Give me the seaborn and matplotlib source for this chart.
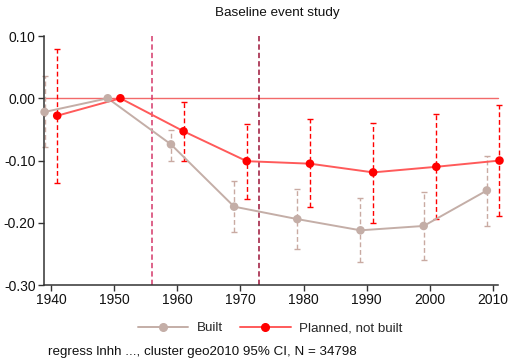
import numpy as np
import pandas as pd
import matplotlib
matplotlib.use("Agg")
import matplotlib.pyplot as plt
from matplotlib.lines import Line2D
import seaborn as sns

# Event-study coefficients (log households) with 95% confidence bounds
built_years = [1939, 1949, 1959, 1969, 1979, 1989, 1999, 2009]
built_coef = [-0.022, 0.000, -0.074, -0.174, -0.194, -0.212, -0.205, -0.148]
built_lo = [-0.078, 0.000, -0.100, -0.214, -0.242, -0.263, -0.259, -0.205]
built_hi = [0.036, 0.000, -0.051, -0.133, -0.146, -0.160, -0.150, -0.092]

planned_years = [1941, 1951, 1961, 1971, 1981, 1991, 2001, 2011]
planned_coef = [-0.028, 0.000, -0.053, -0.101, -0.105, -0.119, -0.110, -0.100]
planned_lo = [-0.136, 0.000, -0.101, -0.161, -0.174, -0.200, -0.194, -0.189]
planned_hi = [0.079, 0.000, -0.006, -0.042, -0.033, -0.039, -0.026, -0.011]

event_years = [1956, 1973]
x_ticks = [1940, 1950, 1960, 1970, 1980, 1990, 2000, 2010]
y_ticks = [-0.30, -0.20, -0.10, 0.00, 0.10]

sns.set_theme(style="ticks")
plt.rcParams["font.family"] = ["Liberation Sans", "DejaVu Sans"]

BUILT_LINE = "#c4aea7"
BUILT_BAR = "#c9aaa2"
PLAN_LINE = "#ff5a5a"
PLAN_DOT = "#ff0000"
DASH = (0, (3.5, 2))

df = pd.concat([
    pd.DataFrame({"year": built_years, "coef": built_coef, "group": "Built"}),
    pd.DataFrame({"year": planned_years, "coef": planned_coef, "group": "Planned, not built"}),
], ignore_index=True)

fig = plt.figure(figsize=(5.11, 3.60), dpi=100)
ax = fig.add_axes([0.086, 0.208, 0.889, 0.692])

# reference lines
ax.axhline(0, color="#f26a6a", lw=1.0, zorder=1)
ax.axvline(event_years[0], color="#d4386a", lw=1.1, ls=DASH, zorder=1)
ax.axvline(event_years[1], color="#9c1438", lw=1.1, ls=DASH, zorder=1)

# confidence intervals
for yrs, c, lo, hi, col in [
    (built_years, built_coef, built_lo, built_hi, BUILT_BAR),
    (planned_years, planned_coef, planned_lo, planned_hi, PLAN_DOT),
]:
    c = np.array(c)
    err = np.vstack([c - np.array(lo), np.array(hi) - c])
    eb = ax.errorbar(yrs, c, yerr=err, fmt="none", ecolor=col, elinewidth=1.0,
                     capsize=2.2, capthick=1.0, zorder=2)
    eb[2][0].set_linestyle(DASH)

sns.lineplot(data=df, x="year", y="coef", hue="group",
             palette={"Built": BUILT_LINE, "Planned, not built": PLAN_LINE},
             lw=1.4, legend=False, ax=ax, zorder=3)
sns.scatterplot(data=df, x="year", y="coef", hue="group",
                palette={"Built": BUILT_LINE, "Planned, not built": PLAN_DOT},
                s=38, edgecolor="none", legend=False, ax=ax, zorder=4)

# let points and intervals at the edges spill past the axes
for art in ax.get_children():
    if art is not ax.patch and hasattr(art, "set_clip_on"):
        art.set_clip_on(False)

ax.set_xlim(1938.9, 2010.8)
ax.set_ylim(-0.30, 0.10)
ax.set_xticks(x_ticks)
ax.set_yticks(y_ticks)
ax.set_yticklabels([f"{v:.2f}" for v in y_ticks])
ax.set_xlabel("")
ax.set_ylabel("")
ax.tick_params(axis="both", labelsize=10, length=4, width=1.0, color="#333333",
               labelcolor="#111111", pad=2)
for side in ("top", "right"):
    ax.spines[side].set_visible(False)
for side in ("left", "bottom"):
    ax.spines[side].set_color("#333333")
    ax.spines[side].set_linewidth(1.1)

fig.text(0.542, 0.965, "Baseline event study", ha="center", va="center",
         fontsize=9.7, color="#111111")

handles = [
    Line2D([], [], color=BUILT_LINE, lw=1.4, marker="o", markersize=5.5,
           markerfacecolor=BUILT_LINE, markeredgecolor=BUILT_LINE),
    Line2D([], [], color=PLAN_LINE, lw=1.4, marker="o", markersize=5.5,
           markerfacecolor=PLAN_DOT, markeredgecolor=PLAN_DOT),
]
fig.legend(handles, ["Built", "Planned, not built"], loc="center",
           bbox_to_anchor=(0.528, 0.088), ncol=2, frameon=False, fontsize=9.6,
           handlelength=3.8, columnspacing=1.3, handletextpad=0.6)

fig.text(0.094, 0.022, "regress lnhh ..., cluster geo2010 95% CI, N = 34798",
         ha="left", va="center", fontsize=9.6, color="#111111")

fig.savefig("out.png", dpi=100)
